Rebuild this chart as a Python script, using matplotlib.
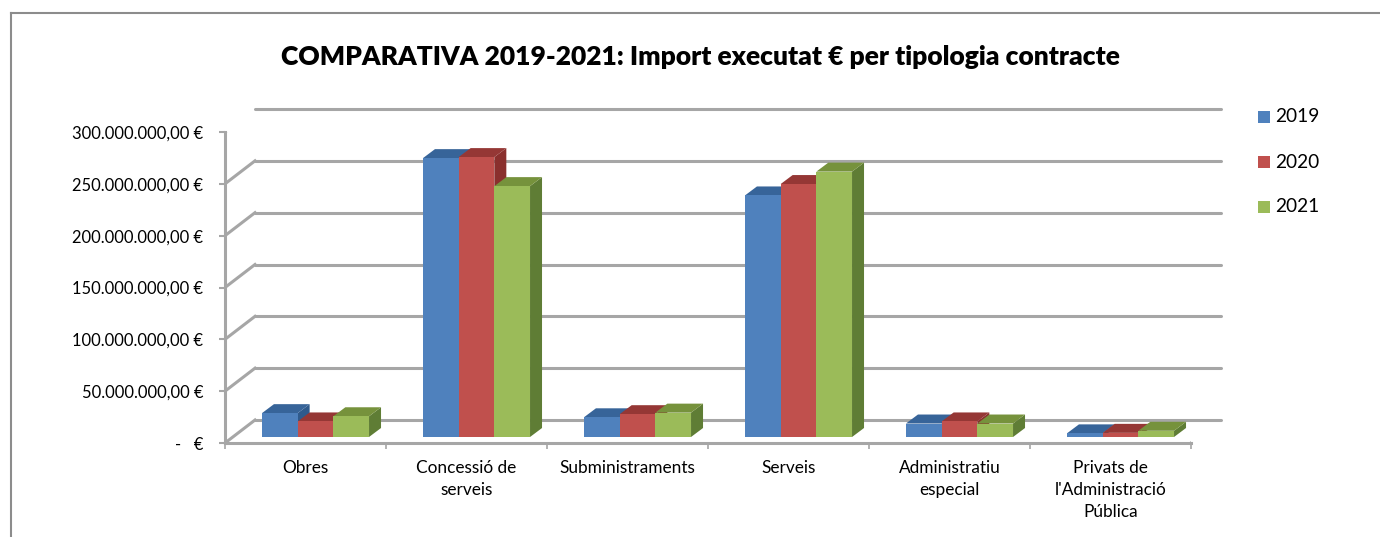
import matplotlib
matplotlib.use("Agg")
from matplotlib import pyplot as plt
from matplotlib.lines import Line2D
from matplotlib.patches import Polygon, Rectangle
from matplotlib.transforms import offset_copy

categories = ["Obres", "Concessió de\nserveis", "Subministraments", "Serveis",
              "Administratiu\nespecial", "Privats de\nl'Administració\nPública"]
years = ["2019", "2020", "2021"]
values_2019 = [23e6, 269e6, 19e6, 233e6, 13e6, 3.5e6]
values_2020 = [15e6, 270e6, 22e6, 244e6, 15e6, 4e6]
values_2021 = [20e6, 242e6, 23.5e6, 256e6, 13e6, 6e6]
y_ticks = [0, 50e6, 100e6, 150e6, 200e6, 250e6, 300e6]
y_labels = ["-   €", "50.000.000,00 €", "100.000.000,00 €", "150.000.000,00 €",
            "200.000.000,00 €", "250.000.000,00 €", "300.000.000,00 €"]

front_colors = ["#4f81bd", "#c0504d", "#9bbb59"]
top_colors = ["#376499", "#953735", "#76923c"]
side_colors = ["#2f5a8c", "#8a2f2d", "#5f7d35"]
grid_color = "#a6a6a6"
W, H = 1380, 537

plt.rcParams["font.family"] = ["Lato", "DejaVu Sans"]

fig = plt.figure(figsize=(W / 100, H / 100), dpi=100)
ax = fig.add_axes([225 / W, 1 - 443 / H, (1191 - 225) / W, (443 - 132) / H])
ax.set_xlim(0, len(categories))
ax.set_ylim(0, 300e6)
ax.patch.set_visible(False)


def shifted(dx, dy):
    # data transform moved by pixels, used for the fake 3D depth
    return offset_copy(ax.transData, fig=fig, x=dx, y=dy, units="dots")


# back wall gridlines and the diagonals of the floor and left wall
back = shifted(30, 23)
for t in y_ticks:
    ax.plot([0, len(categories)], [t, t], transform=back,
            color=grid_color, lw=2.2, clip_on=False, zorder=1, solid_capstyle="round")
    x0, y0 = ax.transData.transform((0, t))
    ax.add_line(Line2D([x0, x0 + 30], [y0, y0 + 23], transform=None, color=grid_color,
                       lw=2.2, zorder=1))
x1, y1 = ax.transData.transform((len(categories), 0))
ax.add_line(Line2D([x1, x1 + 30], [y1, y1 + 23], transform=None, color=grid_color, lw=2.2, zorder=1))

# bars
bar_w = 0.2217
gap = 0.186
depth_x, depth_y = 12, 9
front_tr = shifted(7, 6)
series = [values_2019, values_2020, values_2021]
order = 3
for c in range(len(categories)):
    for s, vals in enumerate(series):
        left = c + gap + s * bar_w
        right = left + bar_w
        v = vals[c]
        (xl, yb), (xr, yt) = front_tr.transform([(left, 0), (right, v)])
        side = [(xr, yb), (xr + depth_x, yb + depth_y), (xr + depth_x, yt + depth_y), (xr, yt)]
        top = [(xl, yt), (xr, yt), (xr + depth_x, yt + depth_y), (xl + depth_x, yt + depth_y)]
        ax.add_patch(Polygon(side, closed=True, transform=None, fc=side_colors[s], ec="none", zorder=order))
        ax.add_patch(Polygon(top, closed=True, transform=None, fc=top_colors[s], ec="none", zorder=order))
        ax.add_patch(Rectangle((left, 0), bar_w, v, transform=front_tr, fc=front_colors[s],
                               ec="none", zorder=order + 0.5, clip_on=False))
        order += 1

# front axes
for name in ["top", "right"]:
    ax.spines[name].set_visible(False)
for name in ["left", "bottom"]:
    ax.spines[name].set_color(grid_color)
    ax.spines[name].set_linewidth(2.2)
    ax.spines[name].set_zorder(2)
ax.set_yticks(y_ticks)
ax.set_yticklabels(y_labels, fontsize=11.9, color="black")
ax.set_xticks(range(len(categories) + 1))
ax.set_xticklabels([])
ax.set_xticks([i + 0.5 for i in range(len(categories))], minor=True)
ax.set_xticklabels(categories, minor=True, fontsize=12.4, color="black", linespacing=1.44, va="top")
ax.tick_params(axis="y", length=4.5, width=1.5, color=grid_color, pad=11)
ax.tick_params(axis="x", which="major", length=4, width=1.2, color=grid_color)
ax.tick_params(axis="x", which="minor", length=0, pad=12.5)

# title, legend and chart frame
fig.text(700 / W, 1 - 57 / H, "COMPARATIVA 2019-2021: Import executat € per tipologia contracte",
         ha="center", va="center", fontsize=19, fontweight=800, color="black")
legend_y = [117, 162, 207]
for s, year in enumerate(years):
    fig.add_artist(Rectangle((1258 / W, 1 - (legend_y[s] + 6) / H), 12 / W, 12 / H,
                             transform=fig.transFigure, fc=front_colors[s], ec="none"))
    fig.text(1275 / W, 1 - legend_y[s] / H, year, ha="left", va="center", fontsize=13.8, color="black")
frame = dict(color="#8c8c8c", lw=1.5, transform=fig.transFigure)
fig.add_artist(Line2D([11 / W, 1], [1 - 13 / H, 1 - 13 / H], **frame))
fig.add_artist(Line2D([11 / W, 11 / W], [1 - 13 / H, 0], **frame))

fig.savefig("out.png", dpi=100)
